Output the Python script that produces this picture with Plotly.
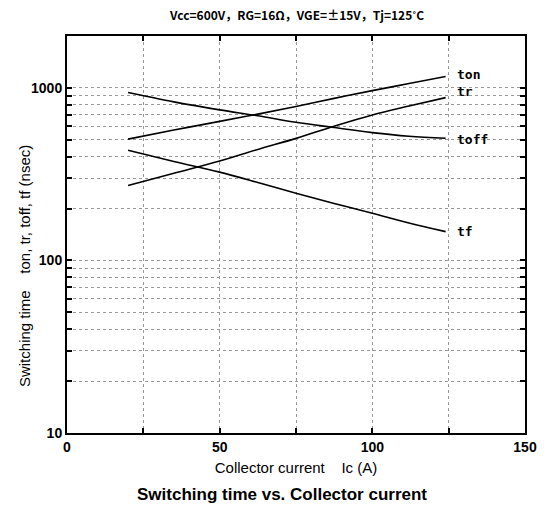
import math
import plotly.graph_objects as go

ic = [20, 35, 50, 62.5, 75, 87.5, 100, 112, 124]
ton = [505, 570, 640, 705, 780, 870, 965, 1060, 1165]
tr = [272, 320, 377, 440, 510, 600, 697, 785, 879]
toff = [940, 830, 746, 690, 632, 590, 551, 525, 511]
tf = [435, 375, 325, 283, 245, 214, 188, 165, 147]

series = [("ton", ton, 1190), ("tr", tr, 952), ("toff", toff, 500), ("tf", tf, 148)]

x_ticks = [0, 25, 50, 75, 100, 125, 150]
x_labels = ["<b>0</b>", "", "<b>50</b>", "", "<b>100</b>", "", "<b>150</b>"]
y_ticks = [10, 20, 30, 40, 50, 60, 70, 80, 90, 100, 200, 300, 400, 500, 600, 700, 800, 900, 1000, 2000]
y_labels = ["<b>10</b>"] + [""] * 8 + ["<b>100</b>"] + [""] * 8 + ["<b>1000</b>", ""]

fig = go.Figure()
for name, vals, ly in series:
    fig.add_trace(go.Scatter(x=ic, y=vals, mode="lines", line=dict(color="black", width=1.6, shape="spline"),
                             name=name, showlegend=False))
    fig.add_annotation(x=127, y=math.log10(ly), text=f"<b>{name}</b>", showarrow=False,
                       xanchor="left", yanchor="middle",
                       font=dict(family="DejaVu Sans Mono", size=13, color="black"))

fig.update_layout(
    width=549, height=510,
    margin=dict(l=67, r=15, t=36, b=77),
    paper_bgcolor="white", plot_bgcolor="white",
    font=dict(family="Liberation Sans", color="black"),
)
fig.update_xaxes(range=[0, 150], tickvals=x_ticks, ticktext=x_labels, ticks="inside", ticklen=5,
                 tickwidth=1.5, tickcolor="black",
                 showline=True, linecolor="black", linewidth=2, mirror="allticks",
                 showgrid=True, gridcolor="#999", griddash="dot", gridwidth=1,
                 tickfont=dict(size=14, family="Liberation Sans", color="black"),
                 title=dict(text="Collector current    Ic (A)", font=dict(size=15), standoff=9),
                 zeroline=False)
fig.update_yaxes(type="log", range=[1, 3.301], tickvals=y_ticks, ticktext=y_labels, ticks="inside",
                 ticklen=5, tickwidth=1.5, tickcolor="black",
                 showline=True, linecolor="black", linewidth=2, mirror="allticks",
                 showgrid=True, gridcolor="#999", griddash="dot", gridwidth=1,
                 tickfont=dict(size=14, family="Liberation Sans", color="black"),
                 zeroline=False)

fig.add_annotation(x=-0.093, xref="paper", y=1.97, yref="y", text="Switching time    ton, tr, toff, tf (nsec)",
                   textangle=-90, showarrow=False, xanchor="center", yanchor="middle",
                   font=dict(size=15, family="Liberation Sans"))
fig.add_annotation(x=0.5, xref="paper", y=1.055, yref="paper",
                   text="<b>Vcc=600V，RG=16Ω，VGE=±15V，Tj=125˚C</b>", showarrow=False,
                   xanchor="center", yanchor="middle",
                   font=dict(size=12, family="Noto Sans CJK JP"))
fig.add_annotation(x=0.47, xref="paper", y=-0.156, yref="paper",
                   text="<b>Switching time vs. Collector current</b>", showarrow=False,
                   xanchor="center", yanchor="middle",
                   font=dict(size=17, family="Liberation Sans"))

fig.write_html("out.html")
